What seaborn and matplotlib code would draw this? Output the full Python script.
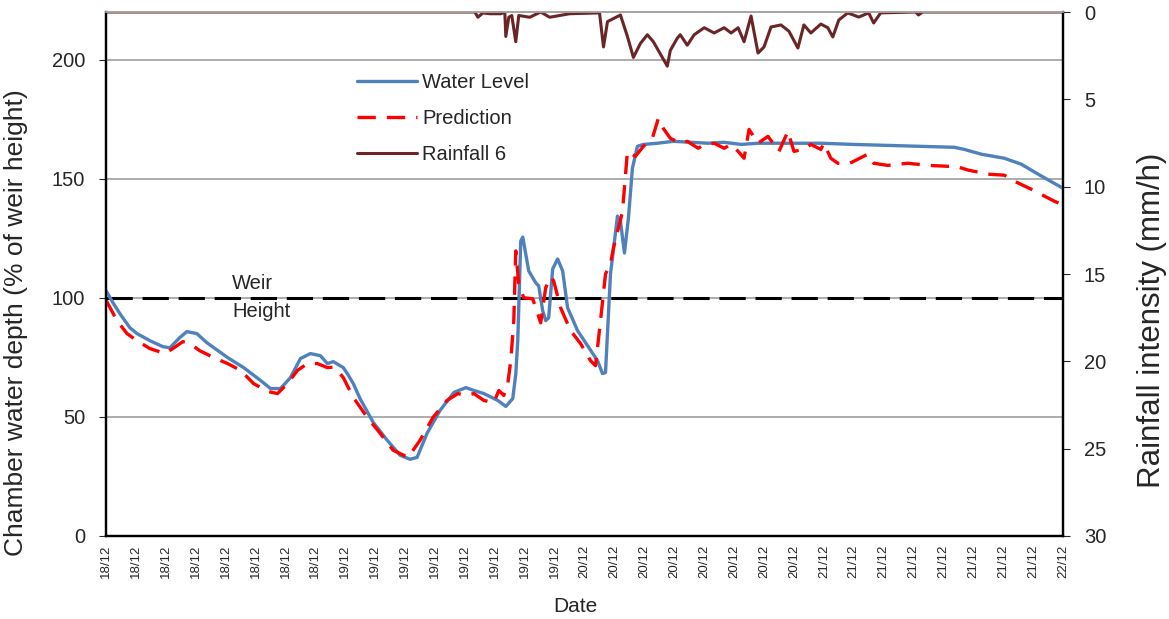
import numpy as np
import pandas as pd
import matplotlib
matplotlib.use("Agg")
import matplotlib.pyplot as plt
import seaborn as sns

# time axis: hours since 18/12 00:00
level_hours = [0, 0.7, 1.4, 2.4, 3.1, 4.4, 5.7, 6.4, 7.4, 8.1, 9.1, 10.1, 12.2, 13.8,
               15.5, 16.5, 17.5, 18.5, 19.5, 20.5, 21.5, 22.2, 22.8, 23.8, 24.2, 24.8,
               25.5, 26.8, 28.2, 29.5, 30.5, 31.2, 32.2, 33.5, 34.9, 36.1, 36.9, 37.9,
               39.3, 40.1, 40.8, 41.1, 41.3, 41.6, 41.8, 42.4, 43.1, 43.4, 43.8, 44.1,
               44.4, 44.8, 45.3, 45.8, 46.3, 47.3, 48.3, 49.3, 49.8, 50.1, 50.6, 51.3,
               51.6, 52.0, 52.4, 52.8, 53.3, 53.9, 55.3, 56.9, 58.7, 60.4, 62.0, 63.7,
               65.4, 68.7, 71.7, 75.0, 78.4, 81.7, 85.1, 86.1, 87.8, 90.1, 91.8, 93.5,
               95.1, 96.0]
water_level = [103, 97.9, 93.3, 87.4, 85, 82, 79.5, 79, 83.3, 85.8, 85, 81.2, 74.9, 70.7,
               65.3, 61.9, 61.9, 66.5, 74.5, 76.6, 75.7, 72.4, 73.2, 70.7, 68.2, 64,
               57.5, 47.7, 40.2, 33.9, 32.2, 33, 43.1, 52.7, 60.3, 62.3, 61.1, 59.8,
               56.9, 54.4, 57.7, 68, 82, 123.8, 125.5, 111.3, 106.3, 105, 94.6, 90.4,
               91.6, 112.1, 116.3, 111.3, 95.8, 86.2, 79.9, 73.6, 68.2, 68.6, 110, 134.3,
               132.2, 118.8, 133.5, 154.4, 163.6, 164.4, 164.9, 165.7, 165.3, 164.9, 165.3, 164.4,
               164.9, 164.9, 164.9, 164.4, 164, 163.6, 163.2, 162.3, 160.3, 158.6, 156.1, 151.9,
               148.1, 146]

pred_hours = [0, 1.1, 2.1, 3.1, 4.4, 5.9, 6.7, 7.7, 8.4, 9.4, 10.8, 12.2, 13.5, 14.8,
              16.2, 17.2, 18.2, 19.2, 20.2, 21.2, 22.2, 22.8, 23.5, 23.8, 24.8, 26.2,
              27.5, 28.8, 30.3, 31.5, 32.8, 34.2, 35.3, 36.1, 36.9, 37.9, 38.9, 39.4,
              39.9, 40.3, 40.6, 40.9, 41.1, 41.4, 41.9, 42.8, 43.3, 43.6, 44.1, 44.6,
              44.9, 45.6, 46.6, 47.6, 48.6, 49.1, 49.6, 50.1, 50.6, 50.9, 51.8, 52.3,
              53.1, 53.9, 54.8, 55.4, 55.9, 56.6, 57.6, 58.3, 59.4, 60.0, 61.0, 62.0,
              62.7, 63.4, 64.0, 64.5, 65.4, 66.4, 66.9, 67.5, 68.4, 69.0, 70.0, 70.7,
              71.7, 72.0, 72.7, 73.4, 74.4, 75.0, 76.4, 77.0, 78.4, 80.4, 82.5, 84.5,
              85.1, 86.5, 88.5, 90.1, 91.1, 92.8, 95.1, 95.6]
prediction = [99, 90.4, 85, 82, 78.7, 76.6, 78.7, 81.6, 80.8, 77.8, 74.9, 72.4, 69.5, 64,
              60.7, 59.8, 64, 69.5, 72.4, 72.4, 70.7, 70.9, 68, 66.5, 58.2, 49.8,
              43.1, 36, 33, 40.2, 49.8, 56.9, 59.8, 59, 59.8, 56.9, 56, 61.1,
              59, 64, 73.6, 90.4, 119.7, 105.9, 100, 99.6, 93.3, 89.5, 104.2, 108.8,
              107.1, 95.8, 86.2, 80.8, 73.6, 71.5, 90.4, 110, 114.2, 121, 136, 161.5,
              159.4, 163.6, 167, 175.3, 171.1, 167, 164.9, 165.7, 162.8, 164.4, 164.9, 162.8,
              164.4, 161.5, 158.6, 170.7, 164.9, 167.8, 164.9, 161.5, 169.9, 161.5, 162.3, 164.4,
              162.3, 164.9, 158.6, 156.5, 156.1, 157.3, 160.3, 156.5, 155.6, 156.5, 155.6, 155.2,
              155.4, 153.6, 151.9, 151.5, 149, 145.6, 140.6, 139.7]

rain_hours = [0, 37.0, 37.3, 37.8, 38.5, 39.6, 40.0, 40.1, 40.4, 40.7, 41.1, 41.4, 42.5,
              43.6, 44.5, 46.5, 49.5, 49.9, 50.3, 51.6, 52.3, 52.9, 53.6, 54.3, 54.9,
              55.6, 56.3, 56.6, 57.3, 57.6, 58.3, 59.0, 60.0, 61.0, 62.0, 62.7, 63.4,
              64.0, 64.7, 65.4, 66.0, 66.7, 67.7, 68.5, 69.4, 70.0, 70.7, 71.7, 72.4,
              72.9, 73.5, 74.4, 75.5, 76.5, 77.0, 77.7, 81.2, 81.5, 81.9, 90.0, 96.0]
rainfall = [0, 0, 0.3, 0.05, 0.1, 0.1, 0, 1.4, 0.3, 0.2, 1.7, 0.2, 0.3,
            0, 0.3, 0.1, 0.05, 2.0, 0.55, 0.17, 1.4, 2.6, 1.8, 1.3, 1.7,
            2.4, 3.1, 2.2, 1.5, 1.3, 1.9, 1.3, 0.9, 1.2, 0.9, 1.2, 0.9,
            1.7, 0.23, 2.35, 2.0, 0.86, 0.74, 1.1, 2.06, 0.74, 1.2, 0.69, 0.9,
            1.43, 0.46, 0.05, 0.29, 0.05, 0.63, 0.05, 0, 0.17, 0, 0, 0]

tick_hours = list(range(0, 97, 3))
tick_labels = [f"{18 + h // 24}/12" for h in tick_hours]

weir_height = 100

df_level = pd.DataFrame({"hours": level_hours, "value": water_level})
df_pred = pd.DataFrame({"hours": pred_hours, "value": prediction})
df_rain = pd.DataFrame({"hours": rain_hours, "value": rainfall})

sns.set_style("white")
plt.rcParams['font.family'] = ['Liberation Sans', 'DejaVu Sans']

fig = plt.figure(figsize=(11.69, 6.19), dpi=100)
ax = fig.add_axes([0.0907, 0.1341, 0.8187, 0.8465])
ax2 = ax.twinx()

# gridlines first so the lines sit on top
for v in [50, 100, 150, 200]:
    ax.axhline(v, color='#A6A6A6', lw=1.3, zorder=0)

ax.axhline(weir_height, color='black', lw=2.2, linestyle=(0, (8.6, 3.2)), zorder=1)

sns.lineplot(data=df_level, x="hours", y="value", ax=ax, color='#4F81BD', lw=2.4,
             estimator=None, sort=False, label='Water Level', zorder=3)
sns.lineplot(data=df_pred, x="hours", y="value", ax=ax, color='#FF0000', lw=2.4,
             estimator=None, sort=False, linestyle=(0, (5.5, 3.3)), label='Prediction', zorder=4)
sns.lineplot(data=df_rain, x="hours", y="value", ax=ax2, color='#6B2527', lw=2.2,
             estimator=None, sort=False, label='Rainfall 6', clip_on=True)

ax.set_xlim(0, 96)
ax.set_ylim(0, 220)
ax2.set_ylim(30, 0)

ax.set_yticks([0, 50, 100, 150, 200])
ax2.set_yticks([0, 5, 10, 15, 20, 25, 30])
ax.set_xticks(tick_hours)
ax.set_xticklabels(tick_labels, rotation=90, fontsize=9.5)
ax.set_xticks([24, 48, 72], minor=True)

ax.tick_params(axis='y', labelsize=14.5, length=5, direction='out', left=True, pad=10)
ax2.tick_params(axis='y', labelsize=14.5, length=5, direction='out', right=True, pad=10)
ax.tick_params(axis='x', which='major', length=0, pad=6)
ax.tick_params(axis='x', which='minor', length=5, direction='in', color='#A6A6A6', bottom=True)

ax.set_xlabel('Date', fontsize=15)
ax.set_ylabel('Chamber water depth (% of weir height)', fontsize=19)
ax2.set_ylabel('Rainfall intensity (mm/h)', fontsize=22.5)
ax.xaxis.set_label_coords(0.49, -0.116)
ax.yaxis.set_label_coords(-0.0815, 0.408)
ax2.yaxis.set_label_coords(1.077, 0.412)

for side in ['left', 'bottom', 'right']:
    ax.spines[side].set_color('black')
    ax.spines[side].set_linewidth(1.6)
    ax2.spines[side].set_color('black')
    ax2.spines[side].set_linewidth(1.6)
ax.spines['top'].set_color('#A6A6A6')
ax2.spines['top'].set_color('#A6A6A6')
ax.spines['top'].set_linewidth(1.3)
ax2.spines['top'].set_linewidth(1.3)

ax.text(12.65, 105.9, 'Weir', fontsize=14.5, ha='left', va='center')
ax.text(12.65, 94.1, 'Height', fontsize=14.5, ha='left', va='center')

# one legend for both axes
h1, l1 = ax.get_legend_handles_labels()
h2, l2 = ax2.get_legend_handles_labels()
ax2.get_legend().remove()
ax.get_legend().remove()
fig.legend(h1 + h2, l1 + l2, loc='upper left', bbox_to_anchor=(0.3054, 0.882),
           frameon=False, fontsize=14.5, handlelength=3.0, handletextpad=0.25,
           labelspacing=0.85, borderpad=0, borderaxespad=0)

fig.savefig('out.png', dpi=100)
plt.close(fig)
